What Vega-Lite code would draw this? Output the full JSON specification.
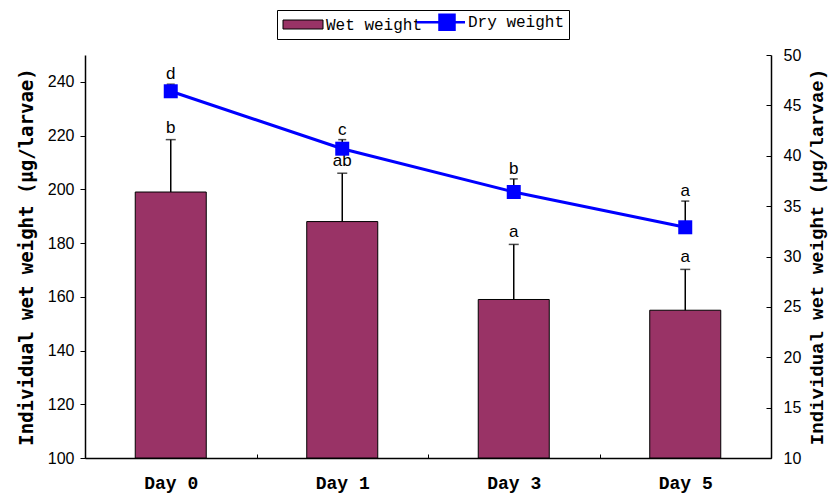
{
  "$schema": "https://vega.github.io/schema/vega-lite/v6.json",
  "width": 686,
  "height": 403,
  "autosize": {"type": "none"},
  "padding": {"left": 85, "top": 55, "right": 59, "bottom": 35},
  "background": "white",
  "config": {
    "view": {"stroke": null},
    "axis": {"domainColor": "black", "tickColor": "black", "labelColor": "black", "titleColor": "black", "grid": false}
  },
  "data": {
    "values": [
      {"day": "Day 0", "wet": 199, "wet_hi": 218.5, "wet_lab": "b", "dry": 46.4, "dry_hi": 47.1, "dry_lab": "d"},
      {"day": "Day 1", "wet": 188, "wet_hi": 206, "wet_lab": "ab", "dry": 40.7, "dry_hi": 41.6, "dry_lab": "c"},
      {"day": "Day 3", "wet": 159, "wet_hi": 179.5, "wet_lab": "a", "dry": 36.4, "dry_hi": 37.7, "dry_lab": "b"},
      {"day": "Day 5", "wet": 155, "wet_hi": 170.2, "wet_lab": "a", "dry": 32.9, "dry_hi": 35.5, "dry_lab": "a"}
    ]
  },
  "encoding": {
    "x": {
      "field": "day",
      "type": "nominal",
      "sort": null,
      "scale": {"paddingInner": 0, "paddingOuter": 0},
      "axis": {
        "title": null,
        "labelAngle": 0,
        "labelFont": "Liberation Mono",
        "labelFontWeight": "bold",
        "labelFontSize": 18,
        "labelPadding": 20,
        "tickSize": -4,
        "tickBand": "extent",
        "domainWidth": 1.5,
        "tickWidth": 1
      }
    }
  },
  "layer": [
    {
      "layer": [
        {
          "mark": {"type": "bar", "width": {"band": 0.414}, "stroke": "black", "strokeWidth": 1},
          "encoding": {
            "y": {
              "field": "wet",
              "type": "quantitative",
              "scale": {"domain": [100, 250], "zero": false, "nice": false},
              "axis": {
                "orient": "left",
                "values": [100, 120, 140, 160, 180, 200, 220, 240],
                "labelFont": "Liberation Sans",
                "labelFontSize": 16,
                "labelPadding": 6,
                "tickSize": 5,
                "domainWidth": 1.5,
                "title": "Individual wet weight (μg/larvae)",
                "titleFont": "DejaVu Sans Mono",
                "titleFontWeight": "bold",
                "titleFontSize": 19,
                "titlePadding": 11
              }
            },
            "y2": {"datum": 100},
            "color": {
              "datum": "Wet weight",
              "type": "nominal",
              "scale": {"domain": ["Wet weight", "Dry weight"], "range": ["#993366", "#0000ff"]},
              "legend": {
                "orient": "none",
                "legendX": 192,
                "legendY": -45,
                "direction": "horizontal",
                "title": null,
                "labelFont": "Liberation Mono",
                "labelFontSize": 16,
                "labelColor": "black",
                "labelOffset": 29,
                "symbolSize": 2500,
                "columnPadding": -13,
                "padding": 4,
                "strokeColor": "black",
                "fillColor": "white",
                "cornerRadius": 0,
                "symbolType": {"expr": "datum.value === 'Wet weight' ? 'M-0.24,-0.18H1.36V0.18H-0.24Z' : 'M-0.56,0H1.36M0.34,-0.3H0.94V0.3H0.34Z'"},
                "symbolStrokeColor": {"expr": "datum.value === 'Wet weight' ? '#000000' : '#0000ff'"},
                "symbolStrokeWidth": {"expr": "datum.value === 'Wet weight' ? 1 : 2.5"}
              }
            }
          }
        },
        {
          "mark": {"type": "rule", "color": "black", "strokeWidth": 1.5},
          "encoding": {
            "y": {"field": "wet", "type": "quantitative"},
            "y2": {"field": "wet_hi"}
          }
        },
        {
          "mark": {"type": "tick", "color": "black", "size": 10, "thickness": 1.5, "orient": "horizontal"},
          "encoding": {"y": {"field": "wet_hi", "type": "quantitative"}}
        },
        {
          "mark": {"type": "text", "font": "Liberation Sans", "fontSize": 17, "color": "black", "baseline": "alphabetic", "dy": -7},
          "encoding": {
            "y": {"field": "wet_hi", "type": "quantitative"},
            "text": {"field": "wet_lab"}
          }
        }
      ]
    },
    {
      "layer": [
        {
          "mark": {"type": "line", "color": "#0000ff", "strokeWidth": 3},
          "encoding": {
            "y": {
              "field": "dry",
              "type": "quantitative",
              "scale": {"domain": [10, 50], "zero": false, "nice": false},
              "axis": {
                "orient": "right",
                "values": [10, 15, 20, 25, 30, 35, 40, 45, 50],
                "labelFont": "Liberation Sans",
                "labelFontSize": 16,
                "labelPadding": 17,
                "tickSize": -5,
                "domainWidth": 1.5,
                "title": "Individual wet weight (μg/larvae)",
                "titleAngle": 270,
                "titleFont": "Liberation Mono",
                "titleFontWeight": "bold",
                "titleFontSize": 19,
                "titlePadding": 26
              }
            }
          }
        },
        {
          "mark": {"type": "rule", "color": "black", "strokeWidth": 1.5},
          "encoding": {
            "y": {"field": "dry", "type": "quantitative"},
            "y2": {"field": "dry_hi"}
          }
        },
        {
          "mark": {"type": "tick", "color": "black", "size": 8, "thickness": 1.5, "orient": "horizontal"},
          "encoding": {"y": {"field": "dry_hi", "type": "quantitative"}}
        },
        {
          "mark": {"type": "point", "shape": "square", "filled": true, "size": 196, "color": "#0000ff", "opacity": 1},
          "encoding": {"y": {"field": "dry", "type": "quantitative"}}
        },
        {
          "mark": {"type": "text", "font": "Liberation Sans", "fontSize": 17, "color": "black", "baseline": "alphabetic", "dy": -5},
          "encoding": {
            "y": {"field": "dry_hi", "type": "quantitative"},
            "text": {"field": "dry_lab"}
          }
        }
      ]
    }
  ],
  "resolve": {"scale": {"y": "independent"}}
}
